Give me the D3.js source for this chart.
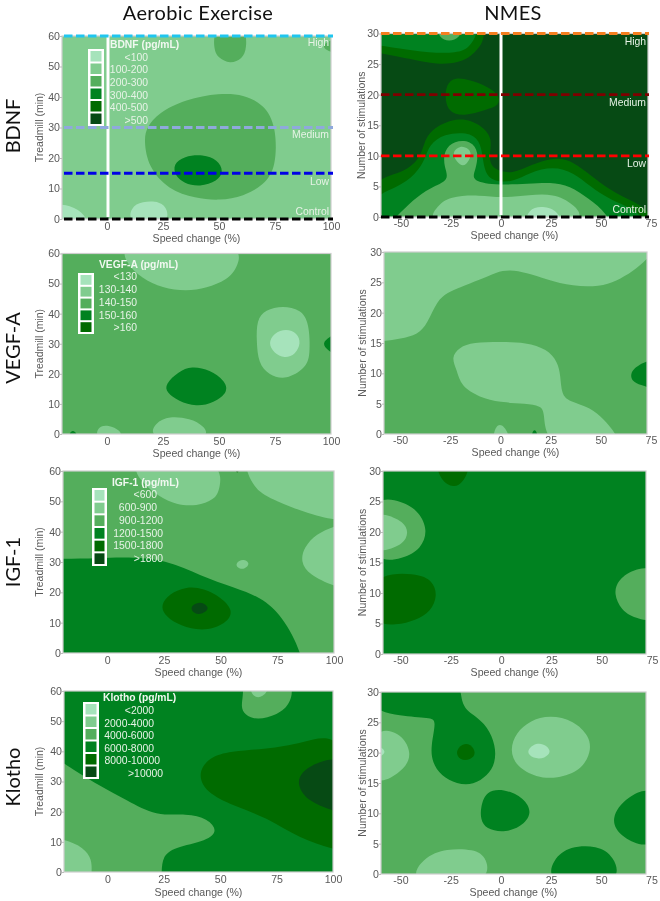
<!DOCTYPE html>
<html><head><meta charset="utf-8">
<script src="https://cdn.jsdelivr.net/npm/d3@7"></script>
<style>
html,body{margin:0;padding:0;background:#fff}
svg{display:block;filter:blur(0.45px)}
</style></head><body><svg id="c" width="660" height="901"></svg>
<script>
// ---------- colour bands (lowest to highest) ----------
const bandColors=["#a6e3bb","#80cc8e","#54ae5c","#008220","#006b00","#064a14"];
const aerobicXTicks=[0,25,50,75,100];
const nmesXTicks=[-50,-25,0,25,50,75];
const aerobicYTicks=[0,10,20,30,40,50,60];
const nmesYTicks=[0,5,10,15,20,25,30];

// ---------- contour bands: [band, [speed, dose]...] ----------
const bdnfAerobic=[
 [2,[[48,64],[62,64],[62.5,56],[60.5,52.5],[55,50.8],[49.5,52.8],[47.5,56]]],
 [2,[[106,60],[97,58],[96,55.5],[106,53.5]]],
 [2,[[16.5,26],[17.8,30],[23,34.8],[35,39.2],[50.3,41.3],[61,40.8],[70.2,37.5],[75.6,30.4],[75.6,17],[70.2,11.2],[61,7.4],[50.3,6],[39.5,6.8],[27.5,9.6],[18.4,17]]],
 [3,[[29.6,18],[34.4,20.6],[43,21.2],[49.4,19.4],[52.2,15.6],[49.4,12.4],[41.5,10.5],[34.4,11.7],[30.4,14.2]]],
 [0,[[-26,5.2],[-16,4.6],[-9.5,1.4],[-8,-3],[-26,-3]]],
 [0,[[9.5,-2],[10.6,3.9],[15.6,5.8],[24,5.8],[27.2,3.2],[27.4,-2]]]
];
const bdnfNmes=[
 [4,[[-66,33],[-8.8,33],[-8.3,30],[-9.4,28.2],[-14.7,26.3],[-21,25.2],[-32,24.9],[-45,25.8],[-60,26.8],[-68,27.2]]],
 [3,[[-66,33],[-12,33],[-11.5,30],[-16,27.6],[-22,26.8],[-35.5,26.8],[-52,27.6],[-60,28],[-68,28.4]]],
 [2,[[-32,31.5],[-19,31.5],[-20.5,29.2],[-26,28.7],[-31,29.2]]],
 [4,[[-27.5,21.7],[-23,22.9],[-15.5,22.4],[-6.5,21.3],[-0.8,19.9],[-0.8,18.2],[-7,17.6],[-19,16.4],[-26,17.2],[-28,19.1]]],
 [4,[[-68,6.2],[-50.5,6.9],[-40.5,9.4],[-38.5,12.2],[-34.5,14.6],[-20.5,16.5],[-10,15.1],[-4,12.9],[-6.3,9.7],[-4,7.7],[6,7],[14.5,8.5],[27.8,9.9],[36.3,9],[44.5,6.9],[54.5,4.4],[64.5,2.8],[73,1.4],[82,-3],[-75,-10]]],
 [3,[[-68,3.2],[-52,4.7],[-42.4,7],[-37.6,9.7],[-36,11.8],[-28.4,13.6],[-17,13.9],[-10.5,12.6],[-9.2,9.8],[-8,7.2],[-4,5.8],[6,5.7],[14.5,7.3],[26,8.3],[36.3,7.3],[44.5,5],[54.5,2.8],[66,1.4],[74,-1],[74,-4],[-78,-12]]],
 [2,[[-62,-3],[-52,0.1],[-44,2.8],[-35.5,4.8],[-25.4,6],[-28.6,8.2],[-28.6,10.9],[-23.4,12.5],[-15,12.5],[-11,10.6],[-12.7,7.7],[-15,6],[-4,5.2],[14.5,5.4],[24.5,5.7],[34.7,5.1],[43.3,3.1],[53.4,0.6],[57,-3]]],
 [1,[[-24,10.7],[-20.5,11.7],[-16,11.2],[-14.5,10.1],[-17.5,8.4],[-20.5,8.4],[-23.5,9.7]]],
 [1,[[-39,-2],[-32.4,1.7],[-25.8,3.4],[-10.5,3.6],[0,3.1],[14.5,3.6],[26,3.8],[36.4,2.3],[46,-2]]],
 [0,[[11,-2],[13.5,1.4],[21,1.8],[28.5,1.1],[32,-2]]]
];
const vegfAerobic=[
 [1,[[5,65],[61,65],[58.6,55.4],[53.6,51.2],[44.5,48.5],[35.4,47.4],[24.8,48.5],[15.6,51.8],[8.6,56.6]]],
 [1,[[66.8,37.8],[70.6,41.3],[78.6,42.7],[86.4,41.3],[90.3,37.2],[90.8,26],[88.6,21.9],[80,17.9],[72.2,19.6],[67.6,23.6],[66.8,30.7]]],
 [0,[[72,30.2],[74.5,33.6],[80,35],[85,33.6],[86.6,30.2],[84.2,26.5],[79.3,25],[74.4,27]]],
 [3,[[106,35],[99,32.2],[96,30.2],[98.4,27.6],[106,25]]],
 [3,[[26,16.6],[32,20.7],[37.7,22.6],[46.2,21.3],[52.4,17.8],[54.4,14.1],[47.7,10.3],[39.9,9],[32,10.9],[26.6,13.8]]],
 [1,[[18,-2],[21.6,3.9],[27.8,6],[37.2,5.2],[43.4,2.8],[46.6,-2]]],
 [1,[[-5.6,-1.5],[-3.8,2.6],[0.6,3],[6.2,1.2],[7,-1.5]]],
 [3,[[-18,-1.5],[-15.2,2.2],[-12,-1.5]]]
];
const vegfNmes=[
 [1,[[-85,60],[100,60],[79,31],[73,28.8],[66,26.8],[57.7,25.2],[49.4,24.3],[36.2,24.3],[22.9,25.5],[12.9,26.6],[4.6,27.1],[-2,26.7],[-10.3,25.4],[-20.2,24.2],[-26.4,23.3],[-31.5,22],[-36.4,18.2],[-41,16.4],[-50,15.7],[-58,15.3],[-66,15]]],
 [1,[[-24.6,12.6],[-20.6,14.3],[-13.6,15.1],[-0.3,15.2],[12.9,15.1],[23.2,14],[28.5,11.9],[29.9,9.7],[30.4,6.5],[34.2,5.4],[44.7,4.4],[51.6,2.4],[57.6,0],[62,-3],[22.4,-3],[22,3.9],[19.8,4.6],[12.9,5],[-0.3,5.2],[-10.3,6],[-19.8,7.9],[-21.6,10.5]]],
 [3,[[80,13],[68,11.4],[64.6,10],[65.5,8.7],[69.4,8.1],[80,7]]],
 [1,[[-4.6,-1.5],[-2.4,1.6],[1.8,1.6],[6.2,-1.5]]],
 [3,[[14.5,-1],[17,1.4],[19.5,-1]]]
];
const igfAerobic=[
 [3,[[-40,31],[-25,31],[-3.2,31.2],[8.5,31.7],[26.4,30.7],[41.2,25.4],[55.9,21.6],[68,18.3],[77,12.4],[86.2,0],[89,-15],[-50,-15]]],
 [4,[[23.7,15.9],[27.2,19.5],[35,22],[42.6,21.3],[50.2,18.4],[55.6,14.1],[53.2,10.4],[47.1,8],[39.5,7.4],[30.2,9.7],[24.9,12.8]]],
 [5,[[36.4,15],[39.2,16.6],[42.8,16.6],[45.2,14.6],[42,12.8],[38.4,12.8]]],
 [1,[[8,65],[50.5,65],[50,54],[47.2,50.5],[39.5,48.4],[30.4,48.8],[22.9,51.6],[15.3,55.9]]],
 [1,[[60,65],[108,65],[108,44.3],[100,43.6],[85,46.8],[68.7,51.9],[64.7,55.2],[62,58.7]]],
 [1,[[108,43.5],[100,41.8],[92.2,39.3],[86.8,34.9],[85.2,30.1],[89,25.8],[100,22],[108,20.5]]],
 [1,[[56.5,29.6],[59.8,31.2],[63.3,29.6],[60.4,27.4],[57.4,28]]],
 [4,[[55.8,62],[57.3,58.3],[59,62]]]
];
const igfNmes=[
 [4,[[-34,33],[-30.6,28.6],[-24.4,27.3],[-19,27.7],[-13,32.5]]],
 [2,[[-66,26.2],[-48.4,25],[-40.7,23.3],[-36.4,20.3],[-39.6,17.3],[-48.4,15.6],[-66,14.8]]],
 [1,[[-66,23.6],[-52,22.4],[-46.5,20.9],[-46.5,18.9],[-52,17.4],[-66,16.2]]],
 [4,[[-66,13.2],[-41.8,13.3],[-33.9,12],[-31.6,9.6],[-34.8,7],[-42.6,5.5],[-51.7,4.7],[-66,4.9]]],
 [2,[[80,14.8],[64.3,13.8],[58,12],[55.9,9.9],[59.7,7.2],[66,5.9],[80,4.8]]]
];
const klothoAerobic=[
 [2,[[-28,40],[-19.2,36],[-3.3,28.4],[8.6,23.9],[21.7,18.4],[35.2,19.5],[44.5,17.7],[49,13.7],[44.5,10.3],[29.1,8.1],[24.5,5],[24,0],[23.8,-8],[-40,-12]]],
 [1,[[-28,11.7],[-19.2,10.9],[-10.3,8.1],[-6.8,4.1],[-7,0],[-7,-4],[-28,-4]]],
 [2,[[60,65],[83,65],[81.6,55.7],[75.4,52.1],[66.3,50.2],[60.7,52.2],[59.2,54.8],[60.3,58.7]]],
 [1,[[62.5,62],[64.4,58],[68.8,57.6],[73,62]]],
 [4,[[108,48],[85.5,42.4],[70.7,40.8],[54.4,40.1],[45.2,38.1],[39.9,32.7],[43.6,26.4],[55.9,22],[70.7,18.1],[85.5,10.9],[100,7.7],[108,6]]],
 [5,[[108,39],[92.9,36.6],[85.7,33],[84,28.9],[88.7,23.5],[100,20.2],[108,19]]]
];
const klothoNmes=[
 [3,[[-66,34],[-19.6,34],[-20.6,27.8],[-13.4,26.2],[-6.6,24.3],[-2.6,21.2],[-2.7,18.3],[-6.6,16.2],[-13.6,14.7],[-21.9,14.8],[-29.8,16.2],[-34.2,18.4],[-35,21],[-32,25.4],[-35.2,25.7],[-50.1,26.1],[-66,27]]],
 [4,[[-22.8,20.1],[-19.4,21.5],[-15,21.5],[-12.1,19.9],[-15,18.8],[-20.4,18.7]]],
 [1,[[-66,24.2],[-50.1,23.6],[-44,19.9],[-48,17],[-66,13.6]]],
 [0,[[-64,21.8],[-55,20.1],[-64,18.6]]],
 [1,[[4.4,20.5],[7.6,23.3],[14.4,25.3],[24.5,26.2],[36.4,25.3],[44.2,22.7],[45,20.1],[39.9,17],[27.9,15.7],[17.7,15.9],[7.6,17.7]]],
 [0,[[12.5,20.1],[16,21.4],[21,21.6],[25.6,20.3],[22,19],[16,19]]],
 [3,[[-10.1,11],[-7.4,13.7],[1.3,14.1],[11.6,12.6],[15.9,10],[10,7.7],[1.3,6.8],[-7.4,7.4],[-10.1,9]]],
 [3,[[80,15.2],[62.4,12.8],[54.4,9.2],[59,6],[80,3.2]]],
 [3,[[22.4,-2],[25.8,2.5],[34.5,4.6],[47.8,4.7],[56.4,3.1],[61,-2]]],
 [1,[[-47.5,-2],[-38.9,2.8],[-26.9,4.2],[-13.6,4.1],[-6.6,2.8],[-5.4,-2]]]
];

// ---------- legend labels ----------
const bdnfLegend=["<100","100-200","200-300","300-400","400-500",">500"];
const vegfLegend=["<130","130-140","140-150","150-160",">160"];
const igfLegend=["<600","600-900","900-1200","1200-1500","1500-1800",">1800"];
const klothoLegend=["<2000","2000-4000","4000-6000","6000-8000","8000-10000",">10000"];

// ---------- dose levels marked on the BDNF row ----------
const aerobicDoses=[60,30,15,0];
const aerobicDoseNames=["High","Medium","Low","Control"];
const nmesDoses=[30,20,10,0];
const nmesDoseNames=["High","Medium","Low","Control"];
const aerobicDoseColors=["#1fc6ef","#8fa9dc","#0000e6","#000000"];
const nmesDoseColors=["#f57f20","#7f0000","#ff0000","#000000"];

// ---------- layout (pixels) ----------
const svg=d3.select("#c");
const TXT="#595959", SANS="'Liberation Sans',Arial,sans-serif";
const panels=[
 {id:"a1",regions:bdnfAerobic,bg:1,xd:[-20,100],x:[62,331],y:[219,36],xt:aerobicXTicks,yt:aerobicYTicks,yd:[0,60],yl:"Treadmill (min)",ylx:39,lab:19,pad:3,
  doses:{v:aerobicDoses,n:aerobicDoseNames,c:aerobicDoseColors,x1:64,x2:333,lx:329,ly:[42,134,181,211]},white:108,
  leg:{t:"BDNF (pg/mL)",items:bdnfLegend,tx:110,ty:44,box:[88,49,16,77],rx:[148,148,148,148,148,148],iy:[57,69,82,95,107,120]}},
 {id:"n1",regions:bdnfNmes,bg:5,xd:[-60,73.5],x:[381,648],y:[217,33.5],xt:nmesXTicks,yt:nmesYTicks,yd:[0,30],yl:"Number of stimulations",ylx:361,lab:18,pad:2,
  doses:{v:nmesDoses,n:nmesDoseNames,c:nmesDoseColors,x1:381,x2:649,lx:646,ly:[41,102,163,209]},white:501},
 {id:"a2",regions:vegfAerobic,bg:2,xd:[-20,100],x:[62,331],y:[434,253.5],xt:aerobicXTicks,yt:aerobicYTicks,yd:[0,60],yl:"Treadmill (min)",ylx:39,lab:19,pad:3,
  leg:{t:"VEGF-A (pg/mL)",items:vegfLegend,tx:99,ty:264,box:[78,273,16,61],rx:[137,137,137,137,137],iy:[276,289,302,315,327]}},
 {id:"n2",regions:vegfNmes,bg:2,xd:[-58,73],x:[384,647],y:[434,252],xt:nmesXTicks,yt:nmesYTicks,yd:[0,30],yl:"Number of stimulations",ylx:362,lab:18,pad:2},
 {id:"a3",regions:igfAerobic,bg:2,xd:[-19.5,100],x:[63,334],y:[653,471],xt:aerobicXTicks,yt:aerobicYTicks,yd:[0,60],yl:"Treadmill (min)",ylx:39,lab:19,pad:3,
  leg:{t:"IGF-1 (pg/mL)",items:igfLegend,tx:112,ty:482,box:[92,488,15,78],rx:[157,157,163,163,163,163],iy:[494,507,520,533,545,558]}},
 {id:"n3",regions:igfNmes,bg:3,xd:[-58.7,72],x:[383,646],y:[654,471],xt:nmesXTicks,yt:nmesYTicks,yd:[0,30],yl:"Number of stimulations",ylx:362,lab:18,pad:2},
 {id:"a4",regions:klothoAerobic,bg:3,xd:[-19.2,100],x:[64,333],y:[872,691],xt:aerobicXTicks,yt:aerobicYTicks,yd:[0,60],yl:"Treadmill (min)",ylx:39,lab:20,pad:3,
  leg:{t:"Klotho (pg/mL)",items:klothoLegend,tx:103,ty:697,box:[83,702,16,77],rx:[154,154,154,154,160,163],iy:[710,723,735,748,760,773]}},
 {id:"n4",regions:klothoNmes,bg:2,xd:[-59.7,72.3],x:[381,646],y:[874,692],xt:nmesXTicks,yt:nmesYTicks,yd:[0,30],yl:"Number of stimulations",ylx:362,lab:18,pad:2}
];

panels.forEach(p=>{
 const xS=d3.scaleLinear().domain(p.xd).range(p.x);
 const yS=d3.scaleLinear().domain(p.yd).range(p.y);
 const g=svg.append("g");
 g.append("clipPath").attr("id","clip-"+p.id).append("rect")
  .attr("x",p.x[0]).attr("y",p.y[1]).attr("width",p.x[1]-p.x[0]).attr("height",p.y[0]-p.y[1]);
 const plot=g.append("g").attr("clip-path",`url(#clip-${p.id})`);
 plot.append("rect").attr("x",p.x[0]).attr("y",p.y[1]).attr("width",p.x[1]-p.x[0]).attr("height",p.y[0]-p.y[1]).attr("fill",bandColors[p.bg]);
 const line=d3.line().x(d=>xS(d[0])).y(d=>yS(d[1])).curve(d3.curveBasisClosed);
 plot.selectAll("path.band").data(p.regions).join("path").attr("class","band")
  .attr("d",d=>line(d[1])).attr("fill",d=>bandColors[d[0]]);
 g.append("rect").attr("x",p.x[0]).attr("y",p.y[1]).attr("width",p.x[1]-p.x[0]).attr("height",p.y[0]-p.y[1])
  .attr("fill","none").attr("stroke","#cdcdcd").attr("stroke-width",1.2);

 const ax=g.append("g").attr("transform",`translate(0,${p.y[0]})`)
  .call(d3.axisBottom(xS).tickValues(p.xt).tickSize(0).tickPadding(p.pad).tickFormat(d=>String(d)));
 const ay=g.append("g").attr("transform",`translate(${p.x[0]},0)`)
  .call(d3.axisLeft(yS).tickValues(p.yt).tickSize(2).tickPadding(0).tickFormat(d=>String(d)));
 [ax,ay].forEach(a=>{
  a.select(".domain").remove();
  a.selectAll("line").attr("stroke","#bdbdbd");
  a.selectAll("text").attr("fill",TXT).attr("font-family",SANS).attr("font-size",10.6);
 });
 g.append("text").attr("x",(p.x[0]+p.x[1])/2).attr("y",p.y[0]+p.lab+4).attr("text-anchor","middle")
  .attr("fill",TXT).attr("font-family",SANS).attr("font-size",10.6).text("Speed change (%)");
 g.append("text").attr("transform",`translate(${p.ylx+4},${(p.y[0]+p.y[1])/2}) rotate(-90)`).attr("text-anchor","middle")
  .attr("fill",TXT).attr("font-family",SANS).attr("font-size",10.5).text(p.yl);

 if(p.white!==undefined){
  g.append("line").attr("x1",p.white).attr("x2",p.white).attr("y1",p.y[1]).attr("y2",p.y[0]-2)
   .attr("stroke","#fff").attr("stroke-width",3);
 }
 if(p.doses){
  const d=p.doses;
  d.v.forEach((v,i)=>{
   g.append("line").attr("x1",d.x1).attr("x2",d.x2).attr("y1",yS(v)).attr("y2",yS(v))
    .attr("stroke",d.c[i]).attr("stroke-width",2.8).attr("stroke-dasharray","8.5 3.5");
   g.append("text").attr("x",d.lx).attr("y",d.ly[i]+4).attr("text-anchor","end")
    .attr("fill","#e6f3e6").attr("font-family",SANS).attr("font-size",10.4).text(d.n[i]);
  });
 }
 if(p.leg){
  const L=p.leg,n=L.items.length,[bx,by,bw,bh]=L.box;
  g.append("rect").attr("x",bx).attr("y",by).attr("width",bw).attr("height",bh).attr("fill","#fff");
  const step=(bh-2)/n;
  L.items.forEach((t,i)=>{
   g.append("rect").attr("x",bx+2.5).attr("y",by+2+i*step).attr("width",bw-5).attr("height",step-2).attr("fill",bandColors[i]);
   g.append("text").attr("x",L.rx[i]).attr("y",L.iy[i]+4).attr("text-anchor","end")
    .attr("fill","#e6f3e6").attr("font-family",SANS).attr("font-size",10.4).text(t);
  });
  g.append("text").attr("x",L.tx).attr("y",L.ty+3.5).attr("fill","#f0f8f0").attr("font-family",SANS)
   .attr("font-weight","bold").attr("font-size",10.3).text(L.t);
 }
});

// ---------- column and row headings ----------
const columnTitles=["Aerobic Exercise","NMES"];
const columnX=[198,513];
columnTitles.forEach((t,i)=>svg.append("text").attr("x",columnX[i]).attr("y",19.8).attr("text-anchor","middle")
 .attr("fill","#111").attr("font-family","Lato,sans-serif").attr("font-size",20).attr("letter-spacing",0.35).text(t));
const rowTitles=["BDNF","VEGF-A","IGF-1","Klotho"];
const rowY=[126,348,562,777];
rowTitles.forEach((t,i)=>svg.append("text").attr("transform",`translate(19.8,${rowY[i]}) rotate(-90)`).attr("text-anchor","middle")
 .attr("fill","#111").attr("font-family","Lato,sans-serif").attr("font-size",20).text(t));
</script></body></html>
